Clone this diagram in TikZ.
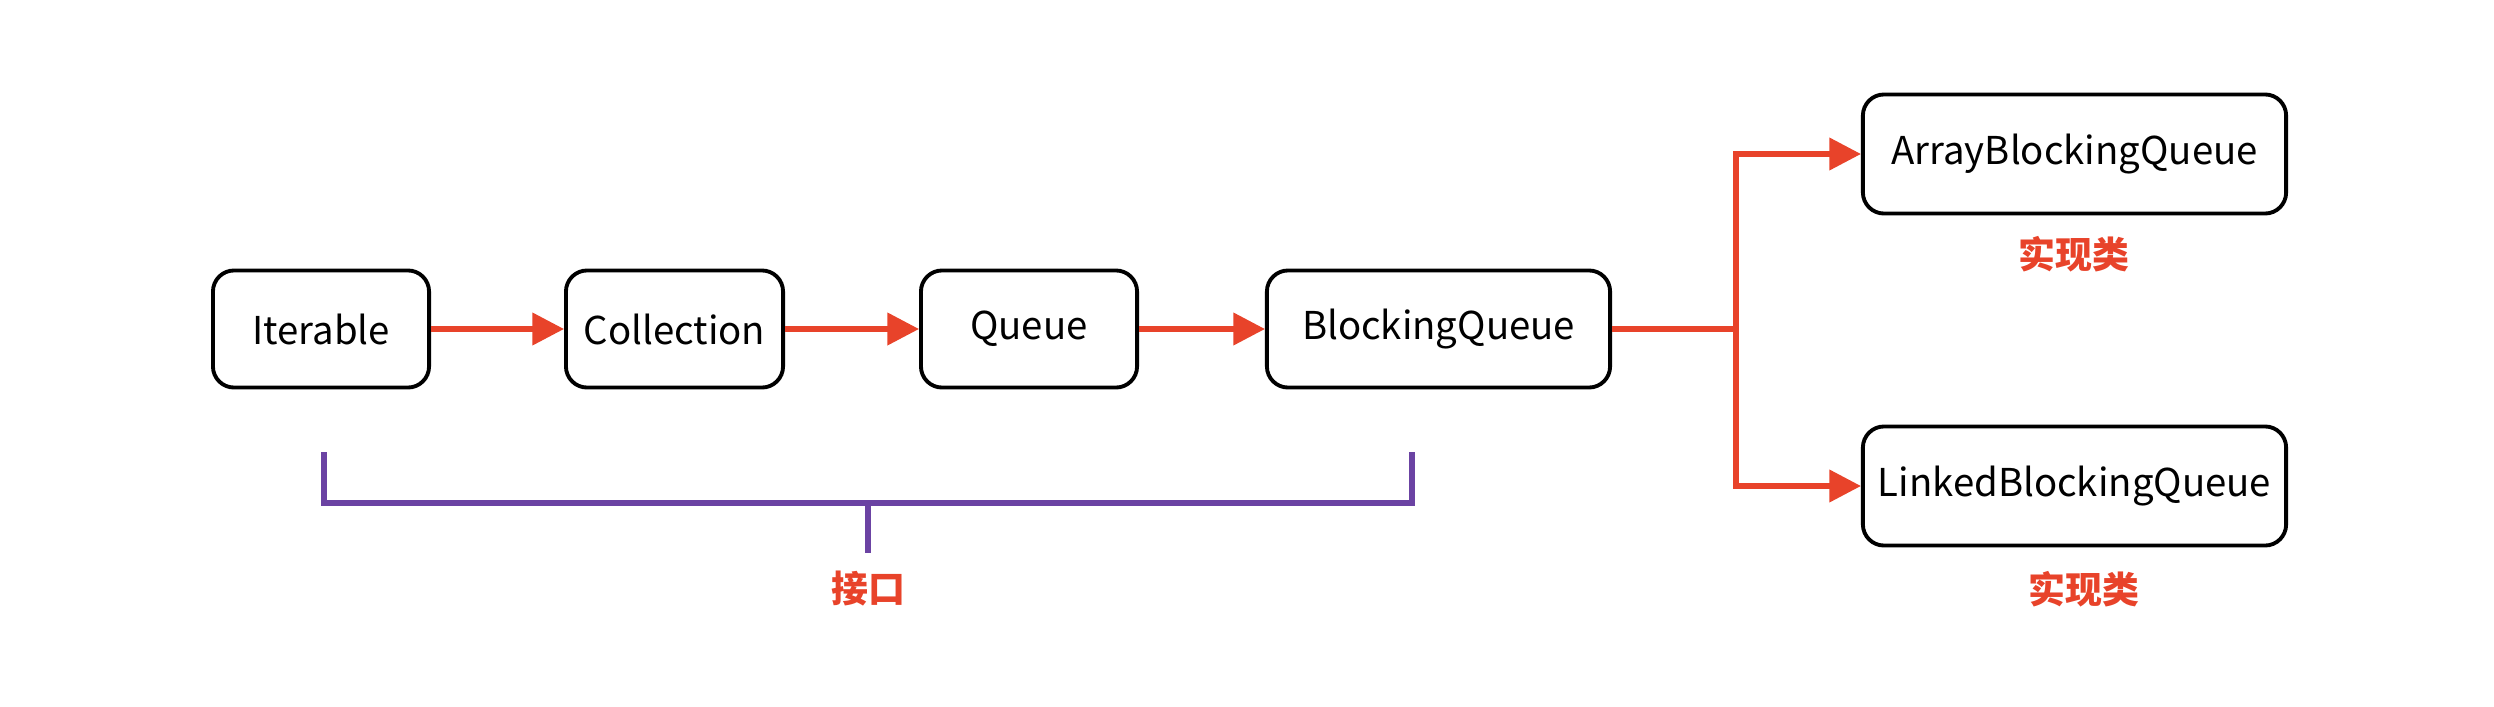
\documentclass[tikz,border=0pt]{standalone}
\usepackage{fontspec}
\setmainfont{Noto Sans CJK SC}
\usetikzlibrary{arrows.meta}
\definecolor{arrred}{HTML}{E8432A}
\definecolor{brk}{HTML}{6B43A3}
\definecolor{lblred}{HTML}{E8432A}
\begin{document}
\begin{tikzpicture}[x=0.01cm,y=-0.01cm,
  box/.style={draw=black, line width=1.1pt, rounded corners=6pt, inner sep=0pt,
    minimum height=1.17cm, font=\fontsize{10.9}{13}\selectfont},
  conn/.style={draw=arrred, line width=1.5pt, -{Triangle[length=9pt,width=9pt]}},
  plain/.style={draw=arrred, line width=1.5pt},
  brace/.style={draw=brk, line width=1.6pt},
  lbl/.style={text=lblred, font=\fontsize{10.5}{12}\selectfont\bfseries, inner sep=0pt}]
\useasboundingbox (0,0) rectangle (2494,706);
\fill[white] (0,0) rectangle (2494,706);
\node[box, minimum width=2.16cm] (it) at (321,329) {Iterable};
\node[box, minimum width=2.17cm] (col) at (674.5,329) {Collection};
\node[box, minimum width=2.16cm] (q) at (1029,329) {Queue};
\node[box, minimum width=3.43cm] (bq) at (1438.5,329) {BlockingQueue};
\node[box, minimum width=4.23cm, minimum height=1.19cm] (abq) at (2074.5,154) {ArrayBlockingQueue};
\node[box, minimum width=4.23cm, minimum height=1.19cm] (lbq) at (2074.5,486) {LinkedBlockingQueue};
\coordinate (j) at (1736,329);
\draw[conn] (it) -- (col);
\draw[conn] (col) -- (q);
\draw[conn] (q) -- (bq);
\draw[plain] (bq.east) -- (j);
\draw[conn] (j) |- (abq.west);
\draw[conn] (j) |- (lbq.west);
\node[lbl] (l1) at (2074,254) {实现类};
\node[lbl] (l2) at (2084,589) {实现类};
\coordinate (b1) at (324,452);
\coordinate (b2) at (1412,452);
\coordinate (bm) at (868,503);
\coordinate (bt) at (868,553);
\draw[brace] (b1) |- (bm) -| (b2);
\draw[brace] (bm) -- (bt);
\node[lbl] (l3) at (868,589) {接口};
\end{tikzpicture}
\end{document}
